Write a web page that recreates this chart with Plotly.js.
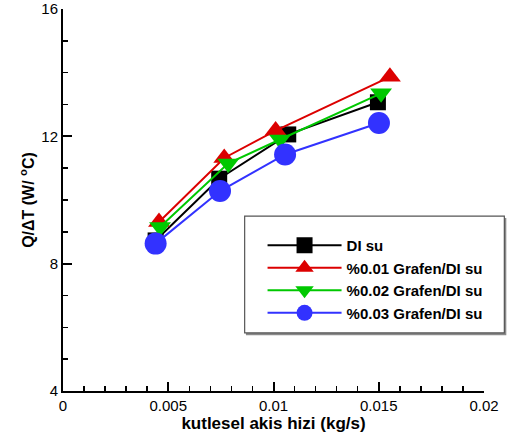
<!DOCTYPE html>
<html>
<head>
<meta charset="utf-8">
<script src="https://cdn.plot.ly/plotly-3.0.1.min.js"></script>
<style>html,body{margin:0;padding:0;background:#fff;}#chart{width:508px;height:437px;}</style>
</head>
<body>
<div id="chart"></div>
<script>
// Data
const seriesNames = ['DI su', '%0.01 Grafen/DI su', '%0.02 Grafen/DI su', '%0.03 Grafen/DI su'];
const xDI   = [0.00440, 0.00742, 0.01070, 0.01496];
const yDI   = [8.73, 10.67, 12.06, 13.07];
const x001  = [0.00456, 0.00766, 0.01010, 0.01553];
const y001  = [9.31, 11.32, 12.18, 13.87];
const x002  = [0.00461, 0.00785, 0.01031, 0.01511];
const y002  = [9.15, 11.15, 11.90, 13.35];
const x003  = [0.00440, 0.00746, 0.01055, 0.01501];
const y003  = [8.63, 10.28, 11.43, 12.42];

const xTickVals = [0, 0.005, 0.01, 0.015, 0.02];
const xTickText = ['0', '0.005', '0.01', '0.015', '0.02'];
const yTickVals = [4, 8, 12, 16];
const yTickText = ['4', '8', '12', '16'];

const FONT = 'Arial, "Liberation Sans", Helvetica, sans-serif';

function tr(x, y, name, color, symbol, size) {
  return {
    x: x, y: y, name: name, type: 'scatter', mode: 'lines+markers',
    line: {color: color, width: 2},
    marker: {color: color, symbol: symbol, size: size, line: {width: 0}},
    cliponaxis: false
  };
}

const data = [
  tr(xDI,  yDI,  seriesNames[0], '#000000', 'square', 16),
  tr(x001, y001, seriesNames[1], '#dc0000', 'triangle-up', 19),
  tr(x002, y002, seriesNames[2], '#00c800', 'triangle-down', 19),
  tr(x003, y003, seriesNames[3], '#3232ff', 'circle', 22)
];

const layout = {
  width: 508, height: 437,
  margin: {l: 63, r: 24, t: 9, b: 46, pad: 0},
  paper_bgcolor: '#ffffff', plot_bgcolor: '#ffffff',
  font: {family: FONT, size: 15, color: '#000'},
  showlegend: true,
  legend: {
    x: 0.474, y: 0.424, xanchor: 'left', yanchor: 'top',
    bgcolor: 'rgba(255,255,255,0)', borderwidth: 0,
    font: {family: FONT, size: 15, color: '#000', weight: 'bold'},
    itemwidth: 74
  },
  shapes: [
    {type: 'rect', xref: 'paper', yref: 'paper', x0: 0.4345, x1: 1.0530, y0: 0.146, y1: 0.453,
     line: {width: 0}, fillcolor: '#8a8a8a', layer: 'below'},
    {type: 'rect', xref: 'paper', yref: 'paper', x0: 0.4315, x1: 1.0483, y0: 0.152, y1: 0.458,
     line: {color: '#555', width: 1.2}, fillcolor: '#ffffff', layer: 'below'}
  ],
  xaxis: {
    range: [0, 0.02], tickvals: xTickVals, ticktext: xTickText,
    showline: true, linecolor: '#000', linewidth: 2, mirror: false,
    showgrid: false, zeroline: false,
    ticks: 'inside', ticklen: 9, tickwidth: 2, tickcolor: '#000',
    minor: {dtick: 0.001, ticks: 'inside', ticklen: 5, tickwidth: 1.5, tickcolor: '#000', showgrid: false},
    tickfont: {family: FONT, size: 15, color: '#000'},
    ticklabeloverflow: 'allow',
    title: {text: 'kutlesel akis hizi (kg/s)', font: {family: FONT, size: 17, color: '#000', weight: 'bold'}, standoff: 2}
  },
  yaxis: {
    range: [4, 16], tickvals: yTickVals, ticktext: yTickText,
    showline: true, linecolor: '#000', linewidth: 2, mirror: false,
    showgrid: false, zeroline: false,
    ticks: 'inside', ticklen: 9, tickwidth: 2, tickcolor: '#000',
    minor: {dtick: 1, ticks: 'inside', ticklen: 5, tickwidth: 1.5, tickcolor: '#000', showgrid: false},
    tickfont: {family: FONT, size: 15, color: '#000'},
    ticklabeloverflow: 'allow',
    title: {text: 'Q/ΔT (W/ <sup>o</sup>C)', font: {family: FONT, size: 16, color: '#000', weight: 'bold'}, standoff: 3}
  }
};

Plotly.newPlot('chart', data, layout, {displayModeBar: false, staticPlot: true});
</script>
</body>
</html>
